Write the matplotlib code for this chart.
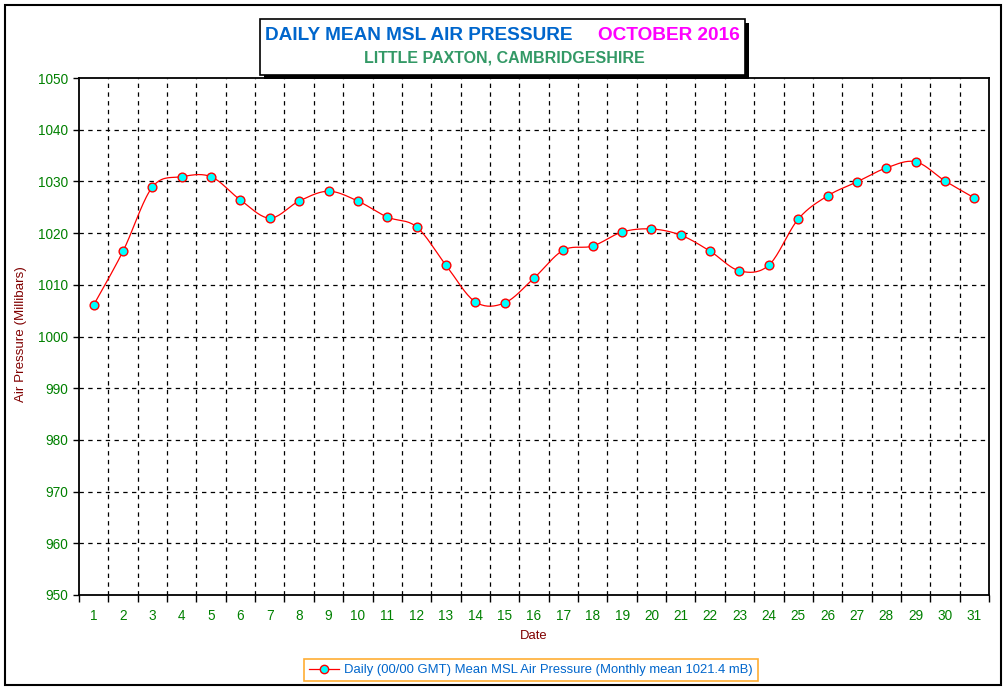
import matplotlib
matplotlib.use("Agg")
import matplotlib.pyplot as plt
from matplotlib.patches import Rectangle
from matplotlib.lines import Line2D
import numpy as np

plt.rcParams['font.family'] = ['Liberation Sans', 'DejaVu Sans']

days = list(range(1, 32))
pressure = [1006.1, 1016.5, 1028.9, 1030.9, 1030.9, 1026.4, 1022.9, 1026.2, 1028.1, 1026.2,
            1023.1, 1021.2, 1013.8, 1006.7, 1006.5, 1011.3, 1016.7, 1017.5, 1020.2, 1020.8,
            1019.6, 1016.5, 1012.7, 1013.8, 1022.7, 1027.2, 1029.9, 1032.6, 1033.8, 1030.1, 1026.8]
y_ticks = list(range(950, 1051, 10))
title_main = "DAILY MEAN MSL AIR PRESSURE"
title_month = "OCTOBER 2016"
subtitle = "LITTLE PAXTON, CAMBRIDGESHIRE"
legend_label = "Daily (00/00 GMT) Mean MSL Air Pressure (Monthly mean 1021.4 mB)"

W, H = 1007, 691
fig = plt.figure(figsize=(W / 100, H / 100), dpi=100)

def fx(px):
    return px / W

def fy(py):
    return 1 - py / H

# outer border
fig.patches.append(Rectangle((fx(5), fy(685)), fx(1001) - fx(5), fy(5) - fy(685),
                             transform=fig.transFigure, fill=False, edgecolor='black', lw=1.5))

ax_l, ax_r, ax_t, ax_b = 79, 989, 78, 595
ax = fig.add_axes([fx(ax_l), fy(ax_b), fx(ax_r) - fx(ax_l), fy(ax_t) - fy(ax_b)])

# smoothed line (Bezier, like spreadsheet smoothing)
x = np.array(days, dtype=float)
y = np.array(pressure, dtype=float)
n = len(x)
xs, ys = [], []
t = np.linspace(0, 1, 20)
for i in range(n - 1):
    p0 = np.array([x[i], y[i]])
    p3 = np.array([x[i + 1], y[i + 1]])
    pm = np.array([x[i - 1], y[i - 1]]) if i > 0 else p0
    pp = np.array([x[i + 2], y[i + 2]]) if i + 2 < n else p3
    c1 = p0 + (p3 - pm) / 6.0
    c2 = p3 - (pp - p0) / 6.0
    b = ((1 - t) ** 3)[:, None] * p0 + (3 * (1 - t) ** 2 * t)[:, None] * c1 + \
        (3 * (1 - t) * t ** 2)[:, None] * c2 + (t ** 3)[:, None] * p3
    xs.extend(b[:, 0])
    ys.extend(b[:, 1])
ax.plot(xs, ys, color='#FF0000', lw=0.9, zorder=3)
ax.plot(x, y, linestyle='none', marker='o', markersize=6.3, markerfacecolor='#00FFFF',
        markeredgecolor='#FF0000', markeredgewidth=1.0, zorder=4)

ax.set_xlim(0.5, 31.5)
ax.set_ylim(950, 1050)
ax.set_yticks(y_ticks)
ax.set_xticks(days)
ax.set_xticklabels([str(d) for d in days])
ax.set_xticks(np.arange(0.5, 32, 1.0), minor=True)
ax.tick_params(axis='x', which='major', length=0, pad=10, labelsize=9.8, labelcolor='#008000')
ax.tick_params(axis='x', which='minor', length=5, width=1, direction='out', color='black')
ax.tick_params(axis='y', which='major', length=4, width=1, direction='out', pad=4,
               labelsize=9.8, labelcolor='#008000')

for v in y_ticks[1:-1]:
    ax.axhline(v, color='black', lw=0.9, linestyle=(0, (3.5, 3.5)), zorder=1)
for v in np.arange(1.5, 31, 1.0):
    ax.axvline(v, color='black', lw=0.9, linestyle=(0, (3.5, 3.5)), zorder=1)

for s in ax.spines.values():
    s.set_linewidth(1.3)
    s.set_color('black')

fig.text(fx(21), fy(334), "Air Pressure (Millibars)", rotation=90, ha='center', va='center',
         fontsize=9.6, color='#800000')
fig.text(fx(534), fy(636), "Date", ha='center', va='center', fontsize=9.4, color='#800000')

# title box with shadow
bx0, bx1, by0, by1 = 260, 745, 19, 75
fig.patches.append(Rectangle((fx(bx0 + 4), fy(by1 + 4)), fx(bx1) - fx(bx0), fy(by0) - fy(by1),
                             transform=fig.transFigure, facecolor='black', edgecolor='black', lw=0))
fig.patches.append(Rectangle((fx(bx0), fy(by1)), fx(bx1) - fx(bx0), fy(by0) - fy(by1),
                             transform=fig.transFigure, facecolor='white', edgecolor='black', lw=1.2))
fig.text(fx(265), fy(36), title_main, ha='left', va='center', fontsize=13.7, fontweight='bold',
         color='#0066CC')
fig.text(fx(740), fy(36), title_month, ha='right', va='center', fontsize=13.7, fontweight='bold',
         color='#FF00FF')
fig.text(fx(504), fy(58), subtitle, ha='center', va='center', fontsize=11.5, fontweight='bold',
         color='#339966')

# legend
handle = Line2D([], [], color='#FF0000', lw=0.9, marker='o', markersize=6,
                markerfacecolor='#00FFFF', markeredgecolor='#FF0000')
leg = fig.legend([handle], [legend_label], loc='center', bbox_to_anchor=(fx(531), fy(670)),
                 fontsize=9.4, frameon=True, fancybox=False, handlelength=2.3, handletextpad=0.4,
                 borderpad=0.35, labelcolor='#0066CC')
leg.get_frame().set_edgecolor('#FF9900')
leg.get_frame().set_linewidth(1.2)

fig.savefig("out.png", dpi=100)
